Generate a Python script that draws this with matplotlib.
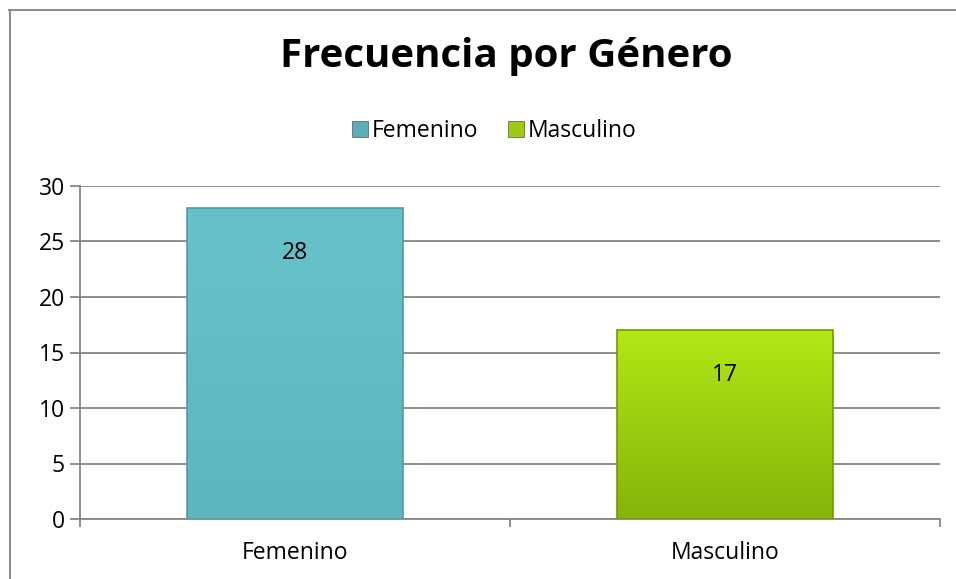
import numpy as np
import matplotlib
import matplotlib.pyplot as plt
from matplotlib.patches import Patch
from matplotlib.colors import LinearSegmentedColormap
from matplotlib.lines import Line2D

plt.rcParams['font.family'] = ['Open Sans', 'DejaVu Sans']

categories = ['Femenino', 'Masculino']
values = [28, 17]
# (top, bottom) colours of each bar's gradient
bar_colors = [('#66c2ca', '#5eb6be'), ('#b2e816', '#84b40a')]
edge_colors = ['#4f9ca3', '#6f9a08']
legend_colors = ['#5aaeb8', '#9ccc10']

fig = plt.figure(figsize=(9.56, 5.79), dpi=100)
ax = fig.add_axes([80/956, 1-519/579, 860/956, 333/579])

x = np.arange(len(categories))
width = 0.502
bars = ax.bar(x, values, width=width, color='none', zorder=3)

for b, (top, bot), ec in zip(bars, bar_colors, edge_colors):
    x0, y0 = b.get_x(), b.get_y()
    w, h = b.get_width(), b.get_height()
    cmap = LinearSegmentedColormap.from_list('g', [bot, top])
    grad = np.linspace(0, 1, 256).reshape(-1, 1)
    im = ax.imshow(grad, cmap=cmap, origin='lower', aspect='auto',
                   extent=[x0, x0 + w, y0, y0 + h], zorder=3)
    im.set_clip_path(b)
    b.set_edgecolor(ec)
    b.set_linewidth(1.2)
    b.set_zorder(4)

for xi, v in zip(x, values):
    ax.annotate(str(v), (xi, v), xytext=(0, -45), textcoords='offset pixels',
                ha='center', va='center', fontsize=16.5, zorder=5)

ax.set_xlim(-0.5, 1.5)
ax.set_ylim(0, 30)
ax.set_yticks(np.arange(0, 31, 5))
ax.yaxis.grid(True, color='#868686', linewidth=1.3, zorder=0)
ax.set_axisbelow(True)

ax.set_xticks(x)
ax.set_xticklabels(categories, fontsize=16.5)
ax.tick_params(axis='x', length=0, pad=16)
ax.set_xticks([-0.5, 0.5, 1.5], minor=True)
ax.tick_params(axis='x', which='minor', length=6, width=1.3, color='#868686', direction='out')
ax.tick_params(axis='y', length=7, width=1.3, color='#868686', labelsize=16.5, pad=4)

for s in ['top', 'right']:
    ax.spines[s].set_visible(False)
for s in ['left', 'bottom']:
    ax.spines[s].set_color('#868686')
    ax.spines[s].set_linewidth(1.3)

fig.text(506/956, 1-57/579, 'Frecuencia por Género', ha='center', va='center',
         fontsize=29, fontweight='bold')

handles = [Patch(facecolor=c, edgecolor='#555555', linewidth=0.5) for c in legend_colors]
fig.legend(handles, categories, loc='center', bbox_to_anchor=(494/956, 1-131/579),
           ncol=2, frameon=False, fontsize=16.5, handlelength=0.7, handleheight=0.7,
           handletextpad=0.15, columnspacing=1.3)

# outer chart border (only top and left visible in crop)
fig.add_artist(Line2D([9/956, 1], [1-9.5/579, 1-9.5/579], color='#8c8c8c', lw=1.5,
                      transform=fig.transFigure))
fig.add_artist(Line2D([9.5/956, 9.5/956], [0, 1-9.5/579], color='#8c8c8c', lw=1.5,
                      transform=fig.transFigure))

fig.savefig('out.png', dpi=100)
